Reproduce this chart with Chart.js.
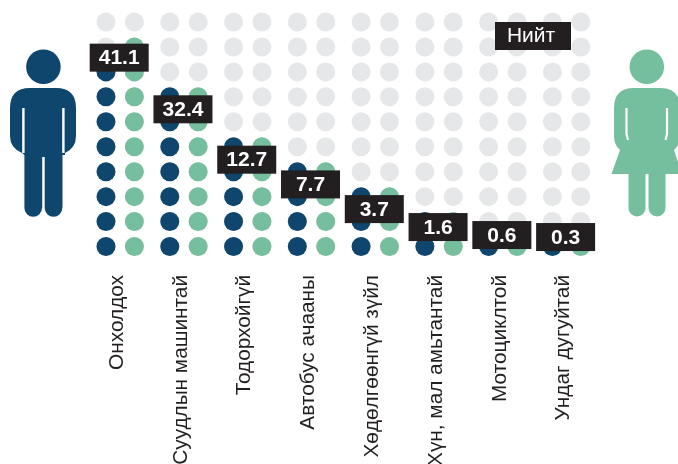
<!DOCTYPE html>
<html>
<head>
<meta charset="utf-8">
<style>html,body{margin:0;padding:0;background:#fff}canvas{display:block}</style>
<script src="https://cdn.jsdelivr.net/npm/chart.js@4"></script>
</head>
<body>
<canvas id="c" width="678" height="464"></canvas>
<script>
const categories = ["Онхолдох","Суудлын машинтай","Тодорхойгүй","Автобус ачааны","Хөдөлгөөнгүй зүйл","Хүн, мал амьтантай","Мотоциклтой","Ундаг дугуйтай"];
const totals = [41.1,32.4,12.7,7.7,3.7,1.6,0.6,0.3];
const maleRows = [8,7,5,4,3,2,1,1];
const femaleRows = [9,7,5,4,3,2,1,1];
const labelRows = [8.57,6.5,4.48,3.49,2.5,1.78,1.46,1.38];
const rowCount = 10;
const groupOffset = 0.2225;
const NAVY = "#0e466e", GREEN = "#76bf9e", GREY = "#e6e7e8", INK = "#231f20";

function dots(rows, shift){
  const out = [];
  rows.forEach((n,i)=>{ for(let r=1;r<=n;r++) out.push({x:i+0.5+shift,y:r}); });
  return out;
}
const fullRows = categories.map(()=>rowCount);

const iconPlugin = {
  id:"icons",
  afterDatasetsDraw(chart){
    const g = chart.ctx, xs = chart.scales.x, ys = chart.scales.y;
    g.save();
    // man
    g.fillStyle = NAVY;
    g.beginPath(); g.arc(43.4,66.8,17.3,0,Math.PI*2); g.fill();
    g.beginPath();
    g.moveTo(10,108);
    g.quadraticCurveTo(10,88,30,88);
    g.lineTo(56,88);
    g.quadraticCurveTo(76,88,76,108);
    g.lineTo(76,136);
    g.quadraticCurveTo(76,148,65,153);
    g.lineTo(65,155);
    g.lineTo(62.5,155);
    g.lineTo(62.5,207);
    g.arc(53.5,208,8.8,0,Math.PI);
    g.lineTo(44.7,157);
    g.lineTo(42.2,157);
    g.lineTo(42.2,208);
    g.arc(33.2,208,8.8,0,Math.PI);
    g.lineTo(24.4,155);
    g.lineTo(22,153);
    g.quadraticCurveTo(10,148,10,136);
    g.closePath();
    g.fill();
    g.fillStyle = "#fff";
    g.fillRect(22.2,108,2.4,45);
    g.fillRect(62.2,108,2.4,45);
    // woman
    g.fillStyle = GREEN;
    g.beginPath(); g.arc(646.8,66.8,17.3,0,Math.PI*2); g.fill();
    g.beginPath();
    g.moveTo(614,108);
    g.quadraticCurveTo(614,88,634,88);
    g.lineTo(660,88);
    g.quadraticCurveTo(680,88,680,108);
    g.lineTo(680,136);
    g.quadraticCurveTo(680,145,674,150);
    g.lineTo(682,174);
    g.lineTo(665.5,174);
    g.lineTo(665.5,208);
    g.arc(657,208,8.5,0,Math.PI);
    g.lineTo(648.5,174);
    g.lineTo(645.5,174);
    g.lineTo(645.5,208);
    g.arc(637,208,8.5,0,Math.PI);
    g.lineTo(628.5,174);
    g.lineTo(611.5,174);
    g.lineTo(620,150);
    g.quadraticCurveTo(614,145,614,136);
    g.closePath();
    g.fill();
    g.strokeStyle = "#fff"; g.lineWidth = 2.2;
    g.beginPath();
    g.moveTo(626.5,108); g.lineTo(626.5,134); g.lineTo(628,140);
    g.moveTo(667,108); g.lineTo(667,134); g.lineTo(665.5,140);
    g.stroke();
    // value boxes
    g.textAlign = "center"; g.textBaseline = "middle";
    g.font = "bold 21px 'Liberation Sans'";
    totals.forEach((v,i)=>{
      const cx = xs.getPixelForValue(i+0.5)-1, cy = ys.getPixelForValue(labelRows[i]);
      g.fillStyle = INK;
      g.fillRect(cx-29.5,cy-14,59,28);
      g.fillStyle = "#fff";
      g.fillText(v.toFixed(1),cx,cy+1);
    });
    // series caption
    g.fillStyle = INK;
    g.fillRect(495,22,76,28);
    g.fillStyle = "#fff";
    g.font = "21px 'Liberation Sans'";
    g.fillText("Нийт",531,36.5);
    g.restore();
  }
};

new Chart(document.getElementById("c"),{
  type:"scatter",
  data:{datasets:[
    {label:"Эрэгтэй",data:dots(maleRows,-groupOffset),backgroundColor:NAVY,order:1},
    {label:"Эмэгтэй",data:dots(femaleRows,groupOffset),backgroundColor:GREEN,order:1},
    {label:"Хоосон",data:dots(fullRows,-groupOffset).concat(dots(fullRows,groupOffset)),backgroundColor:GREY,order:2}
  ]},
  plugins:[iconPlugin],
  options:{
    responsive:false,
    animation:false,
    layout:{padding:{left:88.3,right:79.5,top:7.4,bottom:0}},
    elements:{point:{radius:9.5,hoverRadius:9.5,borderWidth:0}},
    plugins:{legend:{display:false},tooltip:{enabled:false}},
    scales:{
      x:{
        type:"linear",min:0,max:categories.length,
        grid:{display:false},border:{display:false},
        afterBuildTicks(s){ s.ticks = categories.map((_,i)=>({value:i+0.5})); },
        afterFit(s){ s.height = 205; },
        ticks:{
          autoSkip:false,minRotation:90,maxRotation:90,padding:8,labelOffset:-3,
          color:INK,font:{family:"'Liberation Sans'",size:20.8},
          callback:(v)=>categories[Math.floor(v)]
        }
      },
      y:{type:"linear",min:0.5,max:rowCount+0.5,display:false}
    }
  }
});
</script>
</body>
</html>
